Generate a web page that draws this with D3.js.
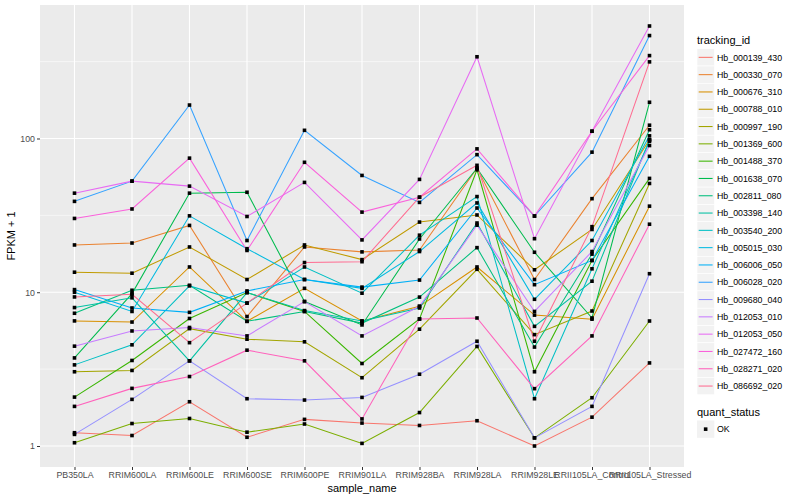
<!DOCTYPE html>
<html>
<head>
<meta charset="utf-8">
<script src="https://cdn.jsdelivr.net/npm/d3@7"></script>
<style>
  body { margin: 0; background: #fff; }
  text { font-family: "Liberation Sans", Arial, sans-serif; }
</style>
</head>
<body>
<svg id="chart" width="800" height="500"></svg>
<script>
// samples on the x axis
const samples = ["PB350LA", "RRIM600LA", "RRIM600LE", "RRIM600SE", "RRIM600PE", "RRIM901LA",
  "RRIM928BA", "RRIM928LA", "RRIM928LE", "RRII105LA_Control", "RRII105LA_Stressed"];

const trackingIds = ["Hb_000139_430", "Hb_000330_070", "Hb_000676_310", "Hb_000788_010", "Hb_000997_190",
  "Hb_001369_600", "Hb_001488_370", "Hb_001638_070", "Hb_002811_080", "Hb_003398_140",
  "Hb_003540_200", "Hb_005015_030", "Hb_006006_050", "Hb_006028_020", "Hb_009680_040",
  "Hb_012053_010", "Hb_012053_050", "Hb_027472_160", "Hb_028271_020", "Hb_086692_020"];

// ggplot hue palette, 20 levels
const colors = ["#F8766D", "#EA8331", "#D89000", "#C09B00", "#A3A500", "#7CAE00", "#39B600", "#00BB4E",
  "#00BF7D", "#00C1A3", "#00BFC4", "#00BAE0", "#00B0F6", "#35A2FF", "#9590FF", "#C77CFF",
  "#E76BF3", "#FA62DB", "#FF62BC", "#FF6C91"];

// FPKM + 1 per sample, one array per gene
const hb000139_430 = [1.22, 1.17, 1.94, 1.14, 1.49, 1.41, 1.36, 1.46, 1.0, 1.54, 3.47];
const hb000330_070 = [20.3, 20.9, 27.2, 6.95, 19.7, 18.3, 18.8, 64, 12.1, 40.6, 122];
const hb000676_310 = [6.51, 6.4, 14.6, 6.47, 10.6, 6.5, 8.1, 14.6, 7.1, 6.68, 36.3];
const hb000788_010 = [13.5, 13.3, 19.7, 12.1, 20.3, 16.3, 28.6, 31.8, 14.0, 25.6, 98];
const hb000997_190 = [3.04, 3.1, 5.8, 4.95, 4.76, 2.78, 5.75, 14.1, 5.3, 7.55, 51];
const hb001369_600 = [1.05, 1.40, 1.51, 1.23, 1.39, 1.04, 1.65, 4.44, 1.13, 2.06, 6.5];
const hb001488_370 = [2.08, 3.6, 6.75, 9.95, 7.5, 3.44, 6.7, 62.6, 3.04, 16.1, 55];
const hb001638_070 = [3.74, 9.8, 44.1, 44.7, 8.7, 6.13, 22.2, 64, 18.2, 6.8, 172];
const hb002811_080 = [7.3, 10.3, 11.1, 6.47, 7.5, 6.3, 9.3, 19.5, 4.4, 17.7, 114];
const hb003398_140 = [7.95, 9.2, 3.58, 9.95, 7.6, 6.5, 7.9, 28.2, 6.0, 11.8, 98];
const hb003540_200 = [3.37, 4.55, 11.0, 8.5, 14.6, 9.86, 23.5, 41.9, 2.03, 14.2, 96];
const hb005015_030 = [10.0, 7.5, 31.4, 19.2, 12.1, 10.6, 18.4, 38.1, 9.0, 21.7, 104];
const hb006006_050 = [10.4, 7.9, 7.4, 10.2, 12.1, 10.8, 12.0, 35.3, 11.2, 16.1, 76.6];
const hb006028_020 = [39, 52.8, 165, 21.7, 113, 57.5, 38.4, 78.5, 31.3, 81.5, 467];
const hb009680_040 = [1.19, 2.01, 3.58, 2.03, 1.99, 2.07, 2.93, 4.8, 1.13, 1.81, 13.2];
const hb012053_010 = [4.46, 5.6, 5.9, 5.2, 8.7, 5.2, 8.1, 27.3, 7.5, 18.4, 90];
const hb012053_050 = [44.1, 52.8, 49, 31.1, 51.8, 21.9, 54.2, 340, 22.3, 111.5, 539];
const hb027472_160 = [30.2, 34.8, 74.5, 18.7, 70, 33.2, 41.5, 85.6, 31.3, 111.5, 346];
const hb028271_020 = [1.81, 2.37, 2.83, 4.2, 3.58, 1.5, 6.7, 6.8, 2.36, 5.2, 27.7];
const hb086692_020 = [9.32, 9.7, 4.7, 8.5, 15.6, 15.8, 41.5, 66.9, 4.8, 26.7, 315];

const seriesValues = [hb000139_430, hb000330_070, hb000676_310, hb000788_010, hb000997_190,
  hb001369_600, hb001488_370, hb001638_070, hb002811_080, hb003398_140, hb003540_200,
  hb005015_030, hb006006_050, hb006028_020, hb009680_040, hb012053_010, hb012053_050,
  hb027472_160, hb028271_020, hb086692_020];

const yTicks = [1, 10, 100];

const series = trackingIds.map((id, i) => ({
  id: id,
  color: colors[i],
  values: seriesValues[i].map((v, j) => ({ sample: samples[j], value: v }))
}));

const svg = d3.select("#chart");
const panel = { left: 40, right: 684, top: 5, bottom: 467 };

const x = d3.scalePoint()
  .domain(samples)
  .range([panel.left, panel.right])
  .padding(0.6);

// log10 scale with ggplot's 5% expansion
const allVals = seriesValues.flat();
const lmin = Math.log10(d3.min(allVals)), lmax = Math.log10(d3.max(allVals));
const pad = (lmax - lmin) * 0.05;
const y = d3.scaleLog()
  .domain([Math.pow(10, lmin - pad), Math.pow(10, lmax + pad)])
  .range([panel.bottom, panel.top]);

// panel background
svg.append("rect")
  .attr("x", panel.left).attr("y", panel.top)
  .attr("width", panel.right - panel.left).attr("height", panel.bottom - panel.top)
  .attr("fill", "#EBEBEB");

// minor grid (log midpoints)
const minor = [0.5, 1.5, 2.5].map(e => Math.pow(10, e));
svg.append("g").selectAll("line").data(minor).enter().append("line")
  .attr("x1", panel.left).attr("x2", panel.right)
  .attr("y1", d => y(d)).attr("y2", d => y(d))
  .attr("stroke", "#fff").attr("stroke-width", 0.55);

// major grid
svg.append("g").selectAll("line").data(yTicks).enter().append("line")
  .attr("x1", panel.left).attr("x2", panel.right)
  .attr("y1", d => y(d)).attr("y2", d => y(d))
  .attr("stroke", "#fff").attr("stroke-width", 1.1);

svg.append("g").selectAll("line").data(samples).enter().append("line")
  .attr("x1", d => x(d)).attr("x2", d => x(d))
  .attr("y1", panel.top).attr("y2", panel.bottom)
  .attr("stroke", "#fff").attr("stroke-width", 1.1);

// lines
const line = d3.line()
  .x(d => x(d.sample))
  .y(d => y(d.value));

svg.append("g").selectAll("path").data(series).enter().append("path")
  .attr("d", d => line(d.values))
  .attr("fill", "none")
  .attr("stroke", d => d.color)
  .attr("stroke-width", 1.05);

// points
const pts = series.flatMap(s => s.values);
svg.append("g").selectAll("rect").data(pts).enter().append("rect")
  .attr("x", d => x(d.sample) - 1.8)
  .attr("y", d => y(d.value) - 1.8)
  .attr("width", 3.6).attr("height", 3.6)
  .attr("fill", "#000");

// axes
const yAxis = svg.append("g")
  .attr("transform", `translate(${panel.left},0)`)
  .call(d3.axisLeft(y).tickValues(yTicks).tickFormat(d3.format("d")).tickSize(3).tickPadding(2));
const xAxis = svg.append("g")
  .attr("transform", `translate(0,${panel.bottom})`)
  .call(d3.axisBottom(x).tickSize(3).tickPadding(2));

[yAxis, xAxis].forEach(a => {
  a.select(".domain").remove();
  a.selectAll(".tick line").attr("stroke", "#333").attr("stroke-width", 1);
  a.selectAll(".tick text")
    .attr("fill", "#4D4D4D")
    .style("font-size", "8.8px")
    .style("font-family", "'Liberation Sans', Arial, sans-serif");
});

// axis titles
svg.append("text")
  .attr("x", (panel.left + panel.right) / 2).attr("y", 492)
  .attr("text-anchor", "middle")
  .style("font-size", "11px")
  .text("sample_name");

svg.append("text")
  .attr("transform", `translate(15,${(panel.top + panel.bottom) / 2}) rotate(-90)`)
  .attr("text-anchor", "middle")
  .style("font-size", "11px")
  .text("FPKM + 1");

// legend: tracking_id
const lg = svg.append("g").attr("transform", "translate(697,0)");
lg.append("text").attr("x", 0).attr("y", 44).style("font-size", "11px").text("tracking_id");

const keyH = 17.3, keyTop = 48.7;
const item = lg.selectAll("g.item").data(series).enter().append("g")
  .attr("class", "item")
  .attr("transform", (d, i) => `translate(0,${keyTop + i * keyH})`);
item.append("rect")
  .attr("width", 17.3).attr("height", keyH)
  .attr("fill", "#F2F2F2").attr("stroke", "#fff").attr("stroke-width", 0.6);
item.append("line")
  .attr("x1", 1.7).attr("x2", 15.6)
  .attr("y1", keyH / 2).attr("y2", keyH / 2)
  .attr("stroke", d => d.color).attr("stroke-width", 1.05);
item.append("text")
  .attr("x", 20).attr("y", keyH / 2 + 3.2)
  .style("font-size", "8.8px")
  .text(d => d.id);

// legend: quant_status
lg.append("text").attr("x", 0).attr("y", 416).style("font-size", "11px").text("quant_status");
const q = lg.append("g").attr("transform", "translate(0,420.5)");
q.append("rect").attr("width", 17.3).attr("height", 17.3).attr("fill", "#F2F2F2");
q.append("rect").attr("x", 6.85).attr("y", 6.85).attr("width", 3.6).attr("height", 3.6).attr("fill", "#000");
q.append("text").attr("x", 20).attr("y", 11.8).style("font-size", "8.8px").text("OK");
</script>
</body>
</html>
